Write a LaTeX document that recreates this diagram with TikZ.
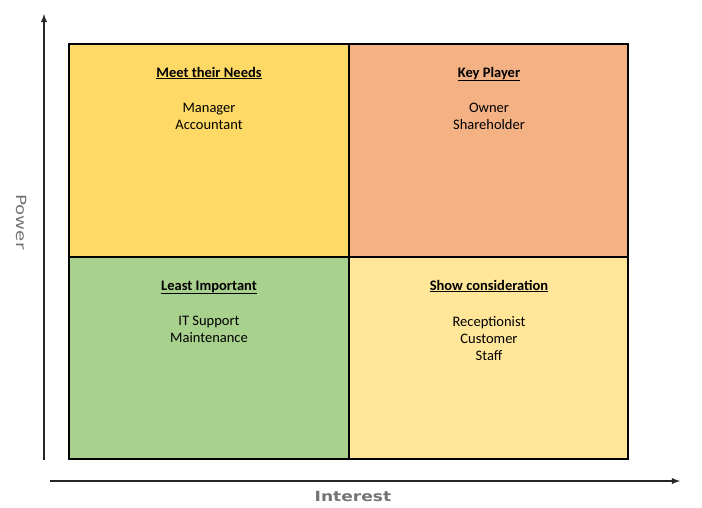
\documentclass[tikz,border=0pt]{standalone}
\usepackage{fontspec}
\setmainfont{Carlito}
\newfontfamily\axisfont{DejaVu Sans}
\usepackage{tikz}
\usetikzlibrary{arrows}

\begin{document}
\begin{tikzpicture}[x=1pt, y=-1pt]
\useasboundingbox (0,0) rectangle (702,507);
\tikzset{quad/.style={draw, line width=1.6pt}, ttl/.style={anchor=base, font=\fontsize{14.5}{17}\selectfont\bfseries}, lst/.style={anchor=north, align=center, inner sep=0pt, font=\fontsize{14.5}{17}\selectfont}}

\fill[fill={rgb,255:red,255;green,217;blue,102}, quad] (69,44) rectangle (349,257);
\fill[fill={rgb,255:red,244;green,177;blue,131}, quad] (349,44) rectangle (628,257);
\fill[fill={rgb,255:red,169;green,209;blue,142}, quad] (69,257) rectangle (349,459);
\fill[fill={rgb,255:red,255;green,230;blue,153}, quad] (349,257) rectangle (628,459);
\draw[line width=1.6pt] (69,44)--(628,44)--(628,459)--(69,459)--(69,44);
\draw[line width=1.6pt] (349,44)--(349,459);
\draw[line width=1.6pt] (69,257)--(628,257);

\node[ttl] (t1) at (209,77) {\underline{Meet their Needs}};
\node[lst] (l1) at (209,103) {Manager\\Accountant};
\node[ttl] (t2) at (489,77) {\underline{Key Player}};
\node[lst] (l2) at (489,103) {Owner\\Shareholder};
\node[ttl] (t3) at (209,290) {\underline{Least Important}};
\node[lst] (l3) at (209,316) {IT Support\\Maintenance};
\node[ttl] (t4) at (489,290) {\underline{Show consideration}};
\node[lst] (l4) at (489,316) {Receptionist\\Customer\\Staff};

\coordinate (o1) at (44,460);
\coordinate (ytop) at (44,14);
\coordinate (o2) at (50,481);
\coordinate (xend) at (680,481);
\draw[-latex, line width=1.8pt, black!85] (o1) -- (ytop);
\draw[-latex, line width=1.8pt, black!85] (o2) -- (xend);

\node[font=\axisfont\fontsize{14}{16}\selectfont\bfseries, black!55, xscale=1.22] (xl) at (353,496) {Interest};
\node[font=\axisfont\fontsize{14}{16}\selectfont, black!55, rotate=-90, xscale=1.3] (yl) at (22,222) {Power};
\end{tikzpicture}
\end{document}
